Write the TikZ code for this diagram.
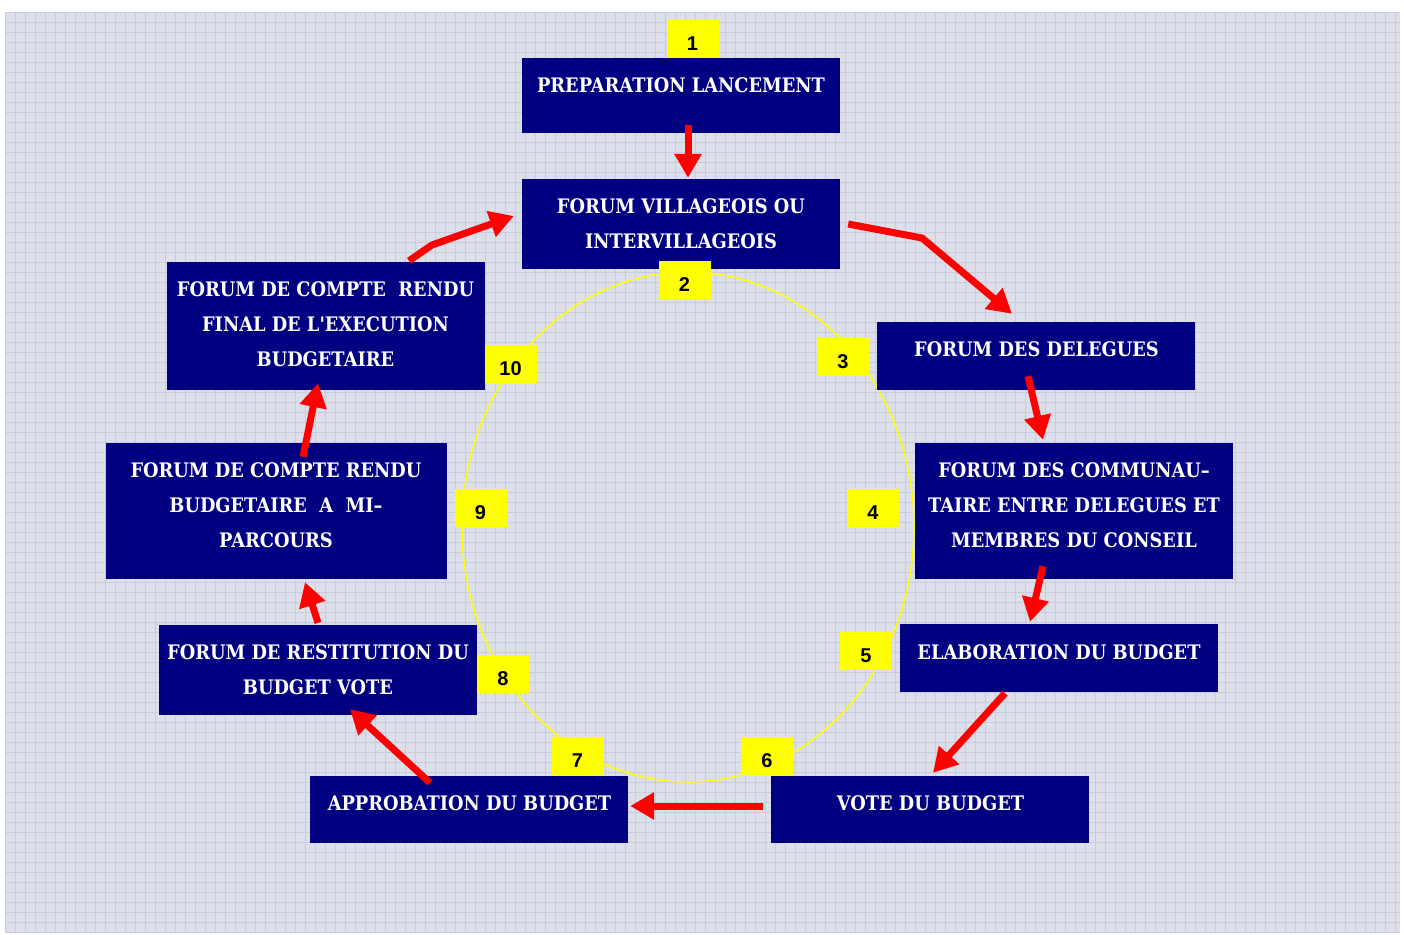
\documentclass[tikz,border=0pt]{standalone}
\usepackage{fontspec}
\usetikzlibrary{arrows.meta,calc}
\newfontfamily\boxfont{DejaVu Serif}[FakeStretch=0.89]
\newfontfamily\numfont{Liberation Sans}
\definecolor{navybox}{HTML}{000080}
\definecolor{bgc}{HTML}{DDE0EB}
\definecolor{gridc}{HTML}{C8CCDC}
\definecolor{ylw}{HTML}{FFFF00}
\definecolor{arrred}{HTML}{FF0000}
\begin{document}
\begin{tikzpicture}[x=1pt,y=-1pt,
 box/.style={fill=navybox, inner sep=0pt, minimum width=318pt},
 txt/.style={text=white, font=\boxfont\bfseries\fontsize{20}{35}\selectfont, align=center, inner sep=0pt},
 ybox/.style={fill=ylw, minimum width=52pt, minimum height=38pt, inner sep=0pt},
 num/.style={font=\numfont\bfseries\fontsize{20}{24}\selectfont, inner sep=0pt},
 arr/.style={draw=arrred, line width=7pt, -{Triangle[length=24pt,width=26pt]}},
]
\useasboundingbox (0,0) rectangle (1404,934);
% background
\fill[bgc] (5,12) rectangle (1400,932);
\foreach \i in {0,...,139} \draw[gridc, line width=0.9pt] (5+\i*10,12) -- (5+\i*10,932);
\foreach \i in {0,...,92} \draw[gridc, line width=0.9pt] (5,12+\i*10) -- (1400,12+\i*10);
% ellipse
\draw[ylw, line width=1.5pt] (688,527) ellipse [x radius=226, y radius=255];
% boxes
\node[box, minimum height=75pt] (b1) at (681,95.5) {};
\node[box, minimum height=90pt] (b2) at (681,224) {};
\node[box, minimum height=68pt] (b3) at (1036,356) {};
\node[box, minimum height=136pt] (b4) at (1074,511) {};
\node[box, minimum height=68pt] (b5) at (1059,658) {};
\node[box, minimum height=67pt] (b6) at (930,809.5) {};
\node[box, minimum height=67pt] (b7) at (469,809.5) {};
\node[box, minimum height=90pt] (b8) at (318,670) {};
\node[box, minimum height=136pt, minimum width=341pt] (b9) at (276.5,511) {};
\node[box, minimum height=128pt] (b10) at (326,326) {};
% texts
\node[txt] (t1) at (681,85) {PREPARATION LANCEMENT};
\node[txt] (t2) at (681,223.5) {FORUM VILLAGEOIS OU\\INTERVILLAGEOIS};
\node[txt] (t3) at (1036.5,349) {FORUM DES DELEGUES};
\node[txt] (t4) at (1074,505.5) {FORUM DES COMMUNAU–\\TAIRE ENTRE DELEGUES ET\\MEMBRES DU CONSEIL};
\node[txt] (t5) at (1059,652) {ELABORATION DU BUDGET};
\node[txt] (t6) at (930.5,803) {VOTE DU BUDGET};
\node[txt] (t7) at (469.5,803) {APPROBATION DU BUDGET};
\node[txt] (t8) at (318,669.5) {FORUM DE RESTITUTION DU\\BUDGET VOTE};
\node[txt] (t9) at (276,505.5) {FORUM DE COMPTE RENDU\\BUDGETAIRE~~A~~MI–\\PARCOURS};
\node[txt] (t10) at (325.5,324) {FORUM DE COMPTE~~RENDU\\FINAL DE L'EXECUTION\\BUDGETAIRE};
% yellow labels
\node[ybox] (y1) at (692.5,39) {};
\node[ybox] (y2) at (684.5,280) {};
\node[ybox] (y3) at (843,357) {};
\node[ybox] (y4) at (873,508) {};
\node[ybox] (y5) at (866,651) {};
\node[ybox] (y6) at (767,756) {};
\node[ybox] (y7) at (577.5,756) {};
\node[ybox] (y8) at (503,674) {};
\node[ybox] (y9) at (480.5,508) {};
\node[ybox] (y10) at (510.5,364) {};
\node[num] (n1) at ($(y1)+(0,5)$) {1};
\node[num] (n2) at ($(y2)+(0,5)$) {2};
\node[num] (n3) at ($(y3)+(0,5)$) {3};
\node[num] (n4) at ($(y4)+(0,5)$) {4};
\node[num] (n5) at ($(y5)+(0,5)$) {5};
\node[num] (n6) at ($(y6)+(0,5)$) {6};
\node[num] (n7) at ($(y7)+(0,5)$) {7};
\node[num] (n8) at ($(y8)+(0,5)$) {8};
\node[num] (n9) at ($(y9)+(0,5)$) {9};
\node[num] (n10) at ($(y10)+(0,5)$) {10};
% arrows
\coordinate (m23) at (922,238);
\coordinate (m102) at (432,245);
\draw[arr] ($(b1.south)+(7,-8)$) -- ($(b2.north)+(7,-1)$);
\draw[arr] ($(b2.east)+(8,0)$) -- (m23) -- ($(b3.north)+(-24,-8)$);
\draw[arr] ($(b3.south)+(-8,-14)$) -- ($(b4.north)+(-31,-3)$);
\draw[arr] ($(b4.south)+(-31,-13)$) -- ($(b5.north)+(-29,-2)$);
\draw[arr] ($(b5.south)+(-54,1)$) -- ($(b6.north)+(3,-3)$);
\draw[arr] ($(b6.west)+(-8,-3.5)$) -- ($(b7.east)+(2,-3.5)$);
\draw[arr] ($(b7.north)+(-39,7)$) -- ($(b8.south)+(32,-6)$);
\draw[arr] ($(b8.north)+(0,-2)$) -- ($(b9.south)+(28.5,3)$);
\draw[arr] ($(b9.north)+(26.5,14)$) -- ($(b10.south)+(-8,-7)$);
\draw[arr] ($(b10.north)+(83,-1)$) -- (m102) -- ($(b2.west)+(-8,-8)$);
\end{tikzpicture}
\end{document}
